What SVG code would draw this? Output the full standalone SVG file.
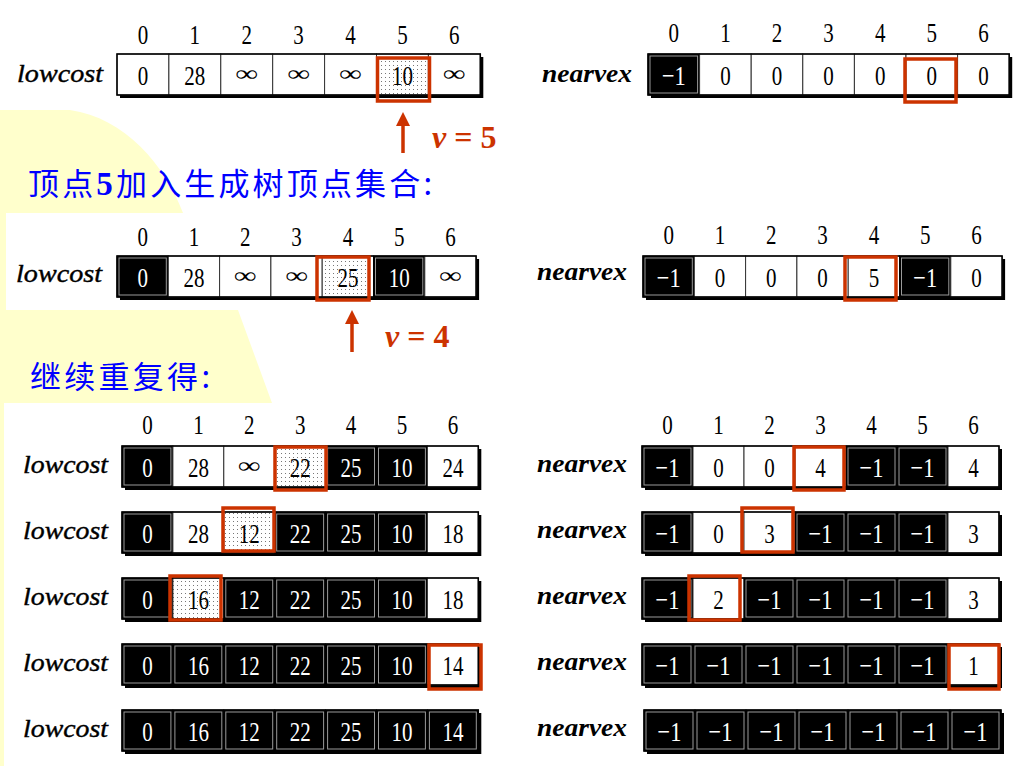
<svg xmlns="http://www.w3.org/2000/svg" width="1024" height="766" viewBox="0 0 1024 766">
<style>
.d{font-family:"Liberation Serif",serif;font-size:28px;text-anchor:middle;fill:#000}
.dw{font-family:"Liberation Serif",serif;font-size:28px;text-anchor:middle;fill:#fff}
.inf{font-family:"Liberation Serif",serif;font-size:28px;text-anchor:middle;fill:#000}
.lbl{font-family:"Liberation Serif",serif;font-size:26px;font-style:italic;fill:#000;stroke:#000;stroke-width:0.4}
.lblb{font-family:"Liberation Serif",serif;font-size:26px;font-style:italic;font-weight:bold;fill:#000}
.sh{fill:#000}
.cw{fill:#fff;stroke:#333;stroke-width:1}
.cd{fill:url(#dots);stroke:#333;stroke-width:1}
.cb{fill:#000;stroke:#000;stroke-width:1}
.ci{fill:none;stroke:#9a9a9a;stroke-width:1}
.ob{fill:none;stroke:#000;stroke-width:1.5}
.red{fill:none;stroke:#cc3300;stroke-width:3.5}
.cn{font-family:"Noto Sans CJK SC",sans-serif;font-size:31px;fill:#0000ff}
.v{font-family:"Liberation Serif",serif;font-size:32px;font-weight:bold;fill:#cc3300}
.arr{stroke:#cc3300;stroke-width:3.5;fill:none}
.ah{fill:#cc3300}
</style>
<defs>
<pattern id="dots" width="4" height="4" patternUnits="userSpaceOnUse">
<rect width="4" height="4" fill="#fff"/>
<rect x="1" y="1" width="1" height="1" fill="#777"/>
</pattern>
</defs>
<rect width="1024" height="766" fill="#fff"/>
<path d="M0,110 H70 C125,118 165,165 183,213 H6 V310 H238 L272,403 H4 V766 H0 Z" fill="#ffffcc"/>

<!-- titles -->
<text class="cn" x="28" y="195" textLength="404" lengthAdjust="spacing">顶点<tspan font-family="Liberation Serif" font-weight="bold" font-size="33">5</tspan>加入生成树顶点集合:</text>
<text class="cn" x="30" y="388" textLength="180" lengthAdjust="spacing">继续重复得:</text>

<!-- index rows -->
<g id="idx1">
<text class="d" transform="translate(142.9 44) scale(.75 1)">0</text>
<text class="d" transform="translate(194.8 44) scale(.75 1)">1</text>
<text class="d" transform="translate(246.8 44) scale(.75 1)">2</text>
<text class="d" transform="translate(298.6 44) scale(.75 1)">3</text>
<text class="d" transform="translate(350.5 44) scale(.75 1)">4</text>
<text class="d" transform="translate(402.4 44) scale(.75 1)">5</text>
<text class="d" transform="translate(454.3 44) scale(.75 1)">6</text>
<text class="d" transform="translate(673.8 42) scale(.75 1)">0</text>
<text class="d" transform="translate(725.4 42) scale(.75 1)">1</text>
<text class="d" transform="translate(777 42) scale(.75 1)">2</text>
<text class="d" transform="translate(828.6 42) scale(.75 1)">3</text>
<text class="d" transform="translate(880.2 42) scale(.75 1)">4</text>
<text class="d" transform="translate(931.8 42) scale(.75 1)">5</text>
<text class="d" transform="translate(983.4 42) scale(.75 1)">6</text>
</g>
<g id="idx2">
<text class="d" transform="translate(142.7 246) scale(.75 1)">0</text>
<text class="d" transform="translate(194 246) scale(.75 1)">1</text>
<text class="d" transform="translate(245.3 246) scale(.75 1)">2</text>
<text class="d" transform="translate(296.6 246) scale(.75 1)">3</text>
<text class="d" transform="translate(347.9 246) scale(.75 1)">4</text>
<text class="d" transform="translate(399.2 246) scale(.75 1)">5</text>
<text class="d" transform="translate(450.5 246) scale(.75 1)">6</text>
<text class="d" transform="translate(668.7 244) scale(.75 1)">0</text>
<text class="d" transform="translate(720 244) scale(.75 1)">1</text>
<text class="d" transform="translate(771.3 244) scale(.75 1)">2</text>
<text class="d" transform="translate(822.6 244) scale(.75 1)">3</text>
<text class="d" transform="translate(873.9 244) scale(.75 1)">4</text>
<text class="d" transform="translate(925.2 244) scale(.75 1)">5</text>
<text class="d" transform="translate(976.5 244) scale(.75 1)">6</text>
</g>
<g id="idx3">
<text class="d" transform="translate(147.5 434) scale(.75 1)">0</text>
<text class="d" transform="translate(198.4 434) scale(.75 1)">1</text>
<text class="d" transform="translate(249.3 434) scale(.75 1)">2</text>
<text class="d" transform="translate(300.2 434) scale(.75 1)">3</text>
<text class="d" transform="translate(351.1 434) scale(.75 1)">4</text>
<text class="d" transform="translate(402 434) scale(.75 1)">5</text>
<text class="d" transform="translate(452.9 434) scale(.75 1)">6</text>
<text class="d" transform="translate(667.5 434) scale(.75 1)">0</text>
<text class="d" transform="translate(718.5 434) scale(.75 1)">1</text>
<text class="d" transform="translate(769.5 434) scale(.75 1)">2</text>
<text class="d" transform="translate(820.5 434) scale(.75 1)">3</text>
<text class="d" transform="translate(871.5 434) scale(.75 1)">4</text>
<text class="d" transform="translate(922.5 434) scale(.75 1)">5</text>
<text class="d" transform="translate(973.5 434) scale(.75 1)">6</text>
</g>

<!-- A1 -->
<g id="A1">
<text class="lbl" x="17" y="82" textLength="86" lengthAdjust="spacingAndGlyphs">lowcost</text>
<rect class="sh" x="120" y="57" width="363.3" height="41"/>
<rect class="cw" x="117" y="54" width="51.9" height="41"/>
<rect class="cw" x="168.9" y="54" width="51.9" height="41"/>
<rect class="cw" x="220.8" y="54" width="51.9" height="41"/>
<rect class="cw" x="272.7" y="54" width="51.9" height="41"/>
<rect class="cw" x="324.6" y="54" width="51.9" height="41"/>
<rect class="cd" x="376.5" y="54" width="51.9" height="41"/>
<rect class="cw" x="428.4" y="54" width="51.9" height="41"/>
<rect class="ob" x="117" y="54" width="363.3" height="41"/>
<text class="d" transform="translate(142.9 85) scale(.75 1)">0</text>
<text class="d" transform="translate(194.8 85) scale(.75 1)">28</text>
<text class="inf" transform="translate(246.8 81) scale(1.15 .8)">∞</text>
<text class="inf" transform="translate(298.6 81) scale(1.15 .8)">∞</text>
<text class="inf" transform="translate(350.5 81) scale(1.15 .8)">∞</text>
<text class="d" transform="translate(402.4 85) scale(.75 1)">10</text>
<text class="inf" transform="translate(454.3 81) scale(1.15 .8)">∞</text>
<rect class="red" x="377.5" y="58" width="52" height="43"/>
</g>

<!-- B1 -->
<g id="B1">
<text class="lblb" x="542" y="82" textLength="90" lengthAdjust="spacingAndGlyphs">nearvex</text>
<rect class="sh" x="651" y="57" width="361.2" height="41"/>
<rect class="cb" x="648" y="54" width="51.6" height="41"/><rect class="ci" x="650" y="56" width="47.6" height="37"/>
<rect class="cw" x="699.6" y="54" width="51.6" height="41"/>
<rect class="cw" x="751.2" y="54" width="51.6" height="41"/>
<rect class="cw" x="802.8" y="54" width="51.6" height="41"/>
<rect class="cw" x="854.4" y="54" width="51.6" height="41"/>
<rect class="cw" x="906" y="54" width="51.6" height="41"/>
<rect class="cw" x="957.6" y="54" width="51.6" height="41"/>
<rect class="ob" x="648" y="54" width="361.2" height="41"/>
<text class="dw" transform="translate(673.8 85) scale(.8 1)">−1</text>
<text class="d" transform="translate(725.4 85) scale(.75 1)">0</text>
<text class="d" transform="translate(777 85) scale(.75 1)">0</text>
<text class="d" transform="translate(828.6 85) scale(.75 1)">0</text>
<text class="d" transform="translate(880.2 85) scale(.75 1)">0</text>
<text class="d" transform="translate(931.8 85) scale(.75 1)">0</text>
<text class="d" transform="translate(983.4 85) scale(.75 1)">0</text>
<rect class="red" x="905" y="59" width="51" height="43"/>
</g>

<!-- A2 -->
<g id="A2">
<text class="lbl" x="16" y="282" textLength="86" lengthAdjust="spacingAndGlyphs">lowcost</text>
<rect class="sh" x="120" y="259" width="359.1" height="41"/>
<rect class="cb" x="117" y="256" width="51.3" height="41"/><rect class="ci" x="119" y="258" width="47.3" height="37"/>
<rect class="cw" x="168.3" y="256" width="51.3" height="41"/>
<rect class="cw" x="219.6" y="256" width="51.3" height="41"/>
<rect class="cw" x="270.9" y="256" width="51.3" height="41"/>
<rect class="cd" x="322.2" y="256" width="51.3" height="41"/>
<rect class="cb" x="373.5" y="256" width="51.3" height="41"/><rect class="ci" x="375.5" y="258" width="47.3" height="37"/>
<rect class="cw" x="424.8" y="256" width="51.3" height="41"/>
<rect class="ob" x="117" y="256" width="359.1" height="41"/>
<text class="dw" transform="translate(142.7 287) scale(.75 1)">0</text>
<text class="d" transform="translate(194 287) scale(.75 1)">28</text>
<text class="inf" transform="translate(245.3 283) scale(1.15 .8)">∞</text>
<text class="inf" transform="translate(296.6 283) scale(1.15 .8)">∞</text>
<text class="d" transform="translate(347.9 287) scale(.75 1)">25</text>
<text class="dw" transform="translate(399.2 287) scale(.75 1)">10</text>
<text class="inf" transform="translate(450.5 283) scale(1.15 .8)">∞</text>
<rect class="red" x="317" y="257" width="52" height="43"/>
</g>

<!-- B2 -->
<g id="B2">
<text class="lblb" x="537" y="280" textLength="90" lengthAdjust="spacingAndGlyphs">nearvex</text>
<rect class="sh" x="646" y="259" width="359.1" height="41"/>
<rect class="cb" x="643" y="256" width="51.3" height="41"/><rect class="ci" x="645" y="258" width="47.3" height="37"/>
<rect class="cw" x="694.3" y="256" width="51.3" height="41"/>
<rect class="cw" x="745.6" y="256" width="51.3" height="41"/>
<rect class="cw" x="796.9" y="256" width="51.3" height="41"/>
<rect class="cw" x="848.2" y="256" width="51.3" height="41"/>
<rect class="cb" x="899.5" y="256" width="51.3" height="41"/><rect class="ci" x="901.5" y="258" width="47.3" height="37"/>
<rect class="cw" x="950.8" y="256" width="51.3" height="41"/>
<rect class="ob" x="643" y="256" width="359.1" height="41"/>
<text class="dw" transform="translate(668.7 287) scale(.8 1)">−1</text>
<text class="d" transform="translate(720 287) scale(.75 1)">0</text>
<text class="d" transform="translate(771.3 287) scale(.75 1)">0</text>
<text class="d" transform="translate(822.6 287) scale(.75 1)">0</text>
<text class="d" transform="translate(873.9 287) scale(.75 1)">5</text>
<text class="dw" transform="translate(925.2 287) scale(.8 1)">−1</text>
<text class="d" transform="translate(976.5 287) scale(.75 1)">0</text>
<rect class="red" x="845" y="257" width="51" height="43"/>
</g>

<!-- A3 -->
<g id="A3">
<text class="lbl" x="23" y="473" textLength="85" lengthAdjust="spacingAndGlyphs">lowcost</text>
<rect class="sh" x="125" y="449" width="356.3" height="41"/>
<rect class="cb" x="122" y="446" width="50.9" height="41"/><rect class="ci" x="124" y="448" width="46.9" height="37"/>
<rect class="cw" x="172.9" y="446" width="50.9" height="41"/>
<rect class="cw" x="223.8" y="446" width="50.9" height="41"/>
<rect class="cd" x="274.7" y="446" width="50.9" height="41"/>
<rect class="cb" x="325.6" y="446" width="50.9" height="41"/><rect class="ci" x="327.6" y="448" width="46.9" height="37"/>
<rect class="cb" x="376.5" y="446" width="50.9" height="41"/><rect class="ci" x="378.5" y="448" width="46.9" height="37"/>
<rect class="cw" x="427.4" y="446" width="50.9" height="41"/>
<rect class="ob" x="122" y="446" width="356.3" height="41"/>
<text class="dw" transform="translate(147.5 477) scale(.75 1)">0</text>
<text class="d" transform="translate(198.4 477) scale(.75 1)">28</text>
<text class="inf" transform="translate(249.3 473) scale(1.15 .8)">∞</text>
<text class="d" transform="translate(300.2 477) scale(.75 1)">22</text>
<text class="dw" transform="translate(351.1 477) scale(.75 1)">25</text>
<text class="dw" transform="translate(402 477) scale(.75 1)">10</text>
<text class="d" transform="translate(452.9 477) scale(.75 1)">24</text>
<rect class="red" x="275" y="447" width="51" height="43"/>
</g>

<!-- A4 -->
<g id="A4">
<text class="lbl" x="23" y="539" textLength="85" lengthAdjust="spacingAndGlyphs">lowcost</text>
<rect class="sh" x="125" y="515" width="356.3" height="41"/>
<rect class="cb" x="122" y="512" width="50.9" height="41"/><rect class="ci" x="124" y="514" width="46.9" height="37"/>
<rect class="cw" x="172.9" y="512" width="50.9" height="41"/>
<rect class="cd" x="223.8" y="512" width="50.9" height="41"/>
<rect class="cb" x="274.7" y="512" width="50.9" height="41"/><rect class="ci" x="276.7" y="514" width="46.9" height="37"/>
<rect class="cb" x="325.6" y="512" width="50.9" height="41"/><rect class="ci" x="327.6" y="514" width="46.9" height="37"/>
<rect class="cb" x="376.5" y="512" width="50.9" height="41"/><rect class="ci" x="378.5" y="514" width="46.9" height="37"/>
<rect class="cw" x="427.4" y="512" width="50.9" height="41"/>
<rect class="ob" x="122" y="512" width="356.3" height="41"/>
<text class="dw" transform="translate(147.5 543) scale(.75 1)">0</text>
<text class="d" transform="translate(198.4 543) scale(.75 1)">28</text>
<text class="d" transform="translate(249.3 543) scale(.75 1)">12</text>
<text class="dw" transform="translate(300.2 543) scale(.75 1)">22</text>
<text class="dw" transform="translate(351.1 543) scale(.75 1)">25</text>
<text class="dw" transform="translate(402 543) scale(.75 1)">10</text>
<text class="d" transform="translate(452.9 543) scale(.75 1)">18</text>
<rect class="red" x="223" y="508" width="51" height="43"/>
</g>

<!-- A5 -->
<g id="A5">
<text class="lbl" x="23" y="605" textLength="85" lengthAdjust="spacingAndGlyphs">lowcost</text>
<rect class="sh" x="125" y="581" width="356.3" height="41"/>
<rect class="cb" x="122" y="578" width="50.9" height="41"/><rect class="ci" x="124" y="580" width="46.9" height="37"/>
<rect class="cd" x="172.9" y="578" width="50.9" height="41"/>
<rect class="cb" x="223.8" y="578" width="50.9" height="41"/><rect class="ci" x="225.8" y="580" width="46.9" height="37"/>
<rect class="cb" x="274.7" y="578" width="50.9" height="41"/><rect class="ci" x="276.7" y="580" width="46.9" height="37"/>
<rect class="cb" x="325.6" y="578" width="50.9" height="41"/><rect class="ci" x="327.6" y="580" width="46.9" height="37"/>
<rect class="cb" x="376.5" y="578" width="50.9" height="41"/><rect class="ci" x="378.5" y="580" width="46.9" height="37"/>
<rect class="cw" x="427.4" y="578" width="50.9" height="41"/>
<rect class="ob" x="122" y="578" width="356.3" height="41"/>
<text class="dw" transform="translate(147.5 609) scale(.75 1)">0</text>
<text class="d" transform="translate(198.4 609) scale(.75 1)">16</text>
<text class="dw" transform="translate(249.3 609) scale(.75 1)">12</text>
<text class="dw" transform="translate(300.2 609) scale(.75 1)">22</text>
<text class="dw" transform="translate(351.1 609) scale(.75 1)">25</text>
<text class="dw" transform="translate(402 609) scale(.75 1)">10</text>
<text class="d" transform="translate(452.9 609) scale(.75 1)">18</text>
<rect class="red" x="170" y="576" width="51" height="44"/>
</g>

<!-- A6 -->
<g id="A6">
<text class="lbl" x="23" y="671" textLength="85" lengthAdjust="spacingAndGlyphs">lowcost</text>
<rect class="sh" x="125" y="647" width="356.3" height="41"/>
<rect class="cb" x="122" y="644" width="50.9" height="41"/><rect class="ci" x="124" y="646" width="46.9" height="37"/>
<rect class="cb" x="172.9" y="644" width="50.9" height="41"/><rect class="ci" x="174.9" y="646" width="46.9" height="37"/>
<rect class="cb" x="223.8" y="644" width="50.9" height="41"/><rect class="ci" x="225.8" y="646" width="46.9" height="37"/>
<rect class="cb" x="274.7" y="644" width="50.9" height="41"/><rect class="ci" x="276.7" y="646" width="46.9" height="37"/>
<rect class="cb" x="325.6" y="644" width="50.9" height="41"/><rect class="ci" x="327.6" y="646" width="46.9" height="37"/>
<rect class="cb" x="376.5" y="644" width="50.9" height="41"/><rect class="ci" x="378.5" y="646" width="46.9" height="37"/>
<rect class="cw" x="427.4" y="644" width="50.9" height="41"/>
<rect class="ob" x="122" y="644" width="356.3" height="41"/>
<text class="dw" transform="translate(147.5 675) scale(.75 1)">0</text>
<text class="dw" transform="translate(198.4 675) scale(.75 1)">16</text>
<text class="dw" transform="translate(249.3 675) scale(.75 1)">12</text>
<text class="dw" transform="translate(300.2 675) scale(.75 1)">22</text>
<text class="dw" transform="translate(351.1 675) scale(.75 1)">25</text>
<text class="dw" transform="translate(402 675) scale(.75 1)">10</text>
<text class="d" transform="translate(452.9 675) scale(.75 1)">14</text>
<rect class="red" x="429" y="645" width="52" height="44"/>
</g>

<!-- A7 -->
<g id="A7">
<text class="lbl" x="23" y="737" textLength="85" lengthAdjust="spacingAndGlyphs">lowcost</text>
<rect class="sh" x="125" y="713" width="356.3" height="41"/>
<rect class="cb" x="122" y="710" width="50.9" height="41"/><rect class="ci" x="124" y="712" width="46.9" height="37"/>
<rect class="cb" x="172.9" y="710" width="50.9" height="41"/><rect class="ci" x="174.9" y="712" width="46.9" height="37"/>
<rect class="cb" x="223.8" y="710" width="50.9" height="41"/><rect class="ci" x="225.8" y="712" width="46.9" height="37"/>
<rect class="cb" x="274.7" y="710" width="50.9" height="41"/><rect class="ci" x="276.7" y="712" width="46.9" height="37"/>
<rect class="cb" x="325.6" y="710" width="50.9" height="41"/><rect class="ci" x="327.6" y="712" width="46.9" height="37"/>
<rect class="cb" x="376.5" y="710" width="50.9" height="41"/><rect class="ci" x="378.5" y="712" width="46.9" height="37"/>
<rect class="cb" x="427.4" y="710" width="50.9" height="41"/><rect class="ci" x="429.4" y="712" width="46.9" height="37"/>
<rect class="ob" x="122" y="710" width="356.3" height="41"/>
<text class="dw" transform="translate(147.5 741) scale(.75 1)">0</text>
<text class="dw" transform="translate(198.4 741) scale(.75 1)">16</text>
<text class="dw" transform="translate(249.3 741) scale(.75 1)">12</text>
<text class="dw" transform="translate(300.2 741) scale(.75 1)">22</text>
<text class="dw" transform="translate(351.1 741) scale(.75 1)">25</text>
<text class="dw" transform="translate(402 741) scale(.75 1)">10</text>
<text class="dw" transform="translate(452.9 741) scale(.75 1)">14</text>
</g>

<!-- B3 -->
<g id="B3">
<text class="lblb" x="537" y="472" textLength="90" lengthAdjust="spacingAndGlyphs">nearvex</text>
<rect class="sh" x="645" y="449" width="357" height="41"/>
<rect class="cb" x="642" y="446" width="51" height="41"/><rect class="ci" x="644" y="448" width="47" height="37"/>
<rect class="cw" x="693" y="446" width="51" height="41"/>
<rect class="cw" x="744" y="446" width="51" height="41"/>
<rect class="cw" x="795" y="446" width="51" height="41"/>
<rect class="cb" x="846" y="446" width="51" height="41"/><rect class="ci" x="848" y="448" width="47" height="37"/>
<rect class="cb" x="897" y="446" width="51" height="41"/><rect class="ci" x="899" y="448" width="47" height="37"/>
<rect class="cw" x="948" y="446" width="51" height="41"/>
<rect class="ob" x="642" y="446" width="357" height="41"/>
<text class="dw" transform="translate(667.5 477) scale(.8 1)">−1</text>
<text class="d" transform="translate(718.5 477) scale(.75 1)">0</text>
<text class="d" transform="translate(769.5 477) scale(.75 1)">0</text>
<text class="d" transform="translate(820.5 477) scale(.75 1)">4</text>
<text class="dw" transform="translate(871.5 477) scale(.8 1)">−1</text>
<text class="dw" transform="translate(922.5 477) scale(.8 1)">−1</text>
<text class="d" transform="translate(973.5 477) scale(.75 1)">4</text>
<rect class="red" x="794" y="447" width="50" height="43"/>
</g>

<!-- B4 -->
<g id="B4">
<text class="lblb" x="537" y="538" textLength="90" lengthAdjust="spacingAndGlyphs">nearvex</text>
<rect class="sh" x="645" y="515" width="357" height="41"/>
<rect class="cb" x="642" y="512" width="51" height="41"/><rect class="ci" x="644" y="514" width="47" height="37"/>
<rect class="cw" x="693" y="512" width="51" height="41"/>
<rect class="cw" x="744" y="512" width="51" height="41"/>
<rect class="cb" x="795" y="512" width="51" height="41"/><rect class="ci" x="797" y="514" width="47" height="37"/>
<rect class="cb" x="846" y="512" width="51" height="41"/><rect class="ci" x="848" y="514" width="47" height="37"/>
<rect class="cb" x="897" y="512" width="51" height="41"/><rect class="ci" x="899" y="514" width="47" height="37"/>
<rect class="cw" x="948" y="512" width="51" height="41"/>
<rect class="ob" x="642" y="512" width="357" height="41"/>
<text class="dw" transform="translate(667.5 543) scale(.8 1)">−1</text>
<text class="d" transform="translate(718.5 543) scale(.75 1)">0</text>
<text class="d" transform="translate(769.5 543) scale(.75 1)">3</text>
<text class="dw" transform="translate(820.5 543) scale(.8 1)">−1</text>
<text class="dw" transform="translate(871.5 543) scale(.8 1)">−1</text>
<text class="dw" transform="translate(922.5 543) scale(.8 1)">−1</text>
<text class="d" transform="translate(973.5 543) scale(.75 1)">3</text>
<rect class="red" x="742" y="508" width="51" height="44"/>
</g>

<!-- B5 -->
<g id="B5">
<text class="lblb" x="537" y="604" textLength="90" lengthAdjust="spacingAndGlyphs">nearvex</text>
<rect class="sh" x="645" y="581" width="357" height="41"/>
<rect class="cb" x="642" y="578" width="51" height="41"/><rect class="ci" x="644" y="580" width="47" height="37"/>
<rect class="cw" x="693" y="578" width="51" height="41"/>
<rect class="cb" x="744" y="578" width="51" height="41"/><rect class="ci" x="746" y="580" width="47" height="37"/>
<rect class="cb" x="795" y="578" width="51" height="41"/><rect class="ci" x="797" y="580" width="47" height="37"/>
<rect class="cb" x="846" y="578" width="51" height="41"/><rect class="ci" x="848" y="580" width="47" height="37"/>
<rect class="cb" x="897" y="578" width="51" height="41"/><rect class="ci" x="899" y="580" width="47" height="37"/>
<rect class="cw" x="948" y="578" width="51" height="41"/>
<rect class="ob" x="642" y="578" width="357" height="41"/>
<text class="dw" transform="translate(667.5 609) scale(.8 1)">−1</text>
<text class="d" transform="translate(718.5 609) scale(.75 1)">2</text>
<text class="dw" transform="translate(769.5 609) scale(.8 1)">−1</text>
<text class="dw" transform="translate(820.5 609) scale(.8 1)">−1</text>
<text class="dw" transform="translate(871.5 609) scale(.8 1)">−1</text>
<text class="dw" transform="translate(922.5 609) scale(.8 1)">−1</text>
<text class="d" transform="translate(973.5 609) scale(.75 1)">3</text>
<rect class="red" x="689" y="576" width="51" height="44"/>
</g>

<!-- B6 -->
<g id="B6">
<text class="lblb" x="537" y="670" textLength="90" lengthAdjust="spacingAndGlyphs">nearvex</text>
<rect class="sh" x="645" y="647" width="357" height="41"/>
<rect class="cb" x="642" y="644" width="51" height="41"/><rect class="ci" x="644" y="646" width="47" height="37"/>
<rect class="cb" x="693" y="644" width="51" height="41"/><rect class="ci" x="695" y="646" width="47" height="37"/>
<rect class="cb" x="744" y="644" width="51" height="41"/><rect class="ci" x="746" y="646" width="47" height="37"/>
<rect class="cb" x="795" y="644" width="51" height="41"/><rect class="ci" x="797" y="646" width="47" height="37"/>
<rect class="cb" x="846" y="644" width="51" height="41"/><rect class="ci" x="848" y="646" width="47" height="37"/>
<rect class="cb" x="897" y="644" width="51" height="41"/><rect class="ci" x="899" y="646" width="47" height="37"/>
<rect class="cw" x="948" y="644" width="51" height="41"/>
<rect class="ob" x="642" y="644" width="357" height="41"/>
<text class="dw" transform="translate(667.5 675) scale(.8 1)">−1</text>
<text class="dw" transform="translate(718.5 675) scale(.8 1)">−1</text>
<text class="dw" transform="translate(769.5 675) scale(.8 1)">−1</text>
<text class="dw" transform="translate(820.5 675) scale(.8 1)">−1</text>
<text class="dw" transform="translate(871.5 675) scale(.8 1)">−1</text>
<text class="dw" transform="translate(922.5 675) scale(.8 1)">−1</text>
<text class="d" transform="translate(973.5 675) scale(.75 1)">1</text>
<rect class="red" x="949" y="645" width="50" height="44"/>
</g>

<!-- B7 -->
<g id="B7">
<text class="lblb" x="537" y="736" textLength="90" lengthAdjust="spacingAndGlyphs">nearvex</text>
<rect class="sh" x="647" y="713" width="357" height="41"/>
<rect class="cb" x="644" y="710" width="51" height="41"/><rect class="ci" x="646" y="712" width="47" height="37"/>
<rect class="cb" x="695" y="710" width="51" height="41"/><rect class="ci" x="697" y="712" width="47" height="37"/>
<rect class="cb" x="746" y="710" width="51" height="41"/><rect class="ci" x="748" y="712" width="47" height="37"/>
<rect class="cb" x="797" y="710" width="51" height="41"/><rect class="ci" x="799" y="712" width="47" height="37"/>
<rect class="cb" x="848" y="710" width="51" height="41"/><rect class="ci" x="850" y="712" width="47" height="37"/>
<rect class="cb" x="899" y="710" width="51" height="41"/><rect class="ci" x="901" y="712" width="47" height="37"/>
<rect class="cb" x="950" y="710" width="51" height="41"/><rect class="ci" x="952" y="712" width="47" height="37"/>
<rect class="ob" x="644" y="710" width="357" height="41"/>
<text class="dw" transform="translate(669.5 741) scale(.8 1)">−1</text>
<text class="dw" transform="translate(720.5 741) scale(.8 1)">−1</text>
<text class="dw" transform="translate(771.5 741) scale(.8 1)">−1</text>
<text class="dw" transform="translate(822.5 741) scale(.8 1)">−1</text>
<text class="dw" transform="translate(873.5 741) scale(.8 1)">−1</text>
<text class="dw" transform="translate(924.5 741) scale(.8 1)">−1</text>
<text class="dw" transform="translate(975.5 741) scale(.8 1)">−1</text>
</g>

<!-- pointers -->
<g id="connectors">
<line class="arr" x1="403" y1="153" x2="403" y2="124"/>
<polygon class="ah" points="403,112 396,126 410,126"/>
<line class="arr" x1="352" y1="352" x2="352" y2="322"/>
<polygon class="ah" points="352,310 345,324 359,324"/>
</g>
<text class="v" x="432" y="148"><tspan font-style="italic">v</tspan> = 5</text>
<text class="v" x="385" y="347"><tspan font-style="italic">v</tspan> = 4</text>
</svg>
